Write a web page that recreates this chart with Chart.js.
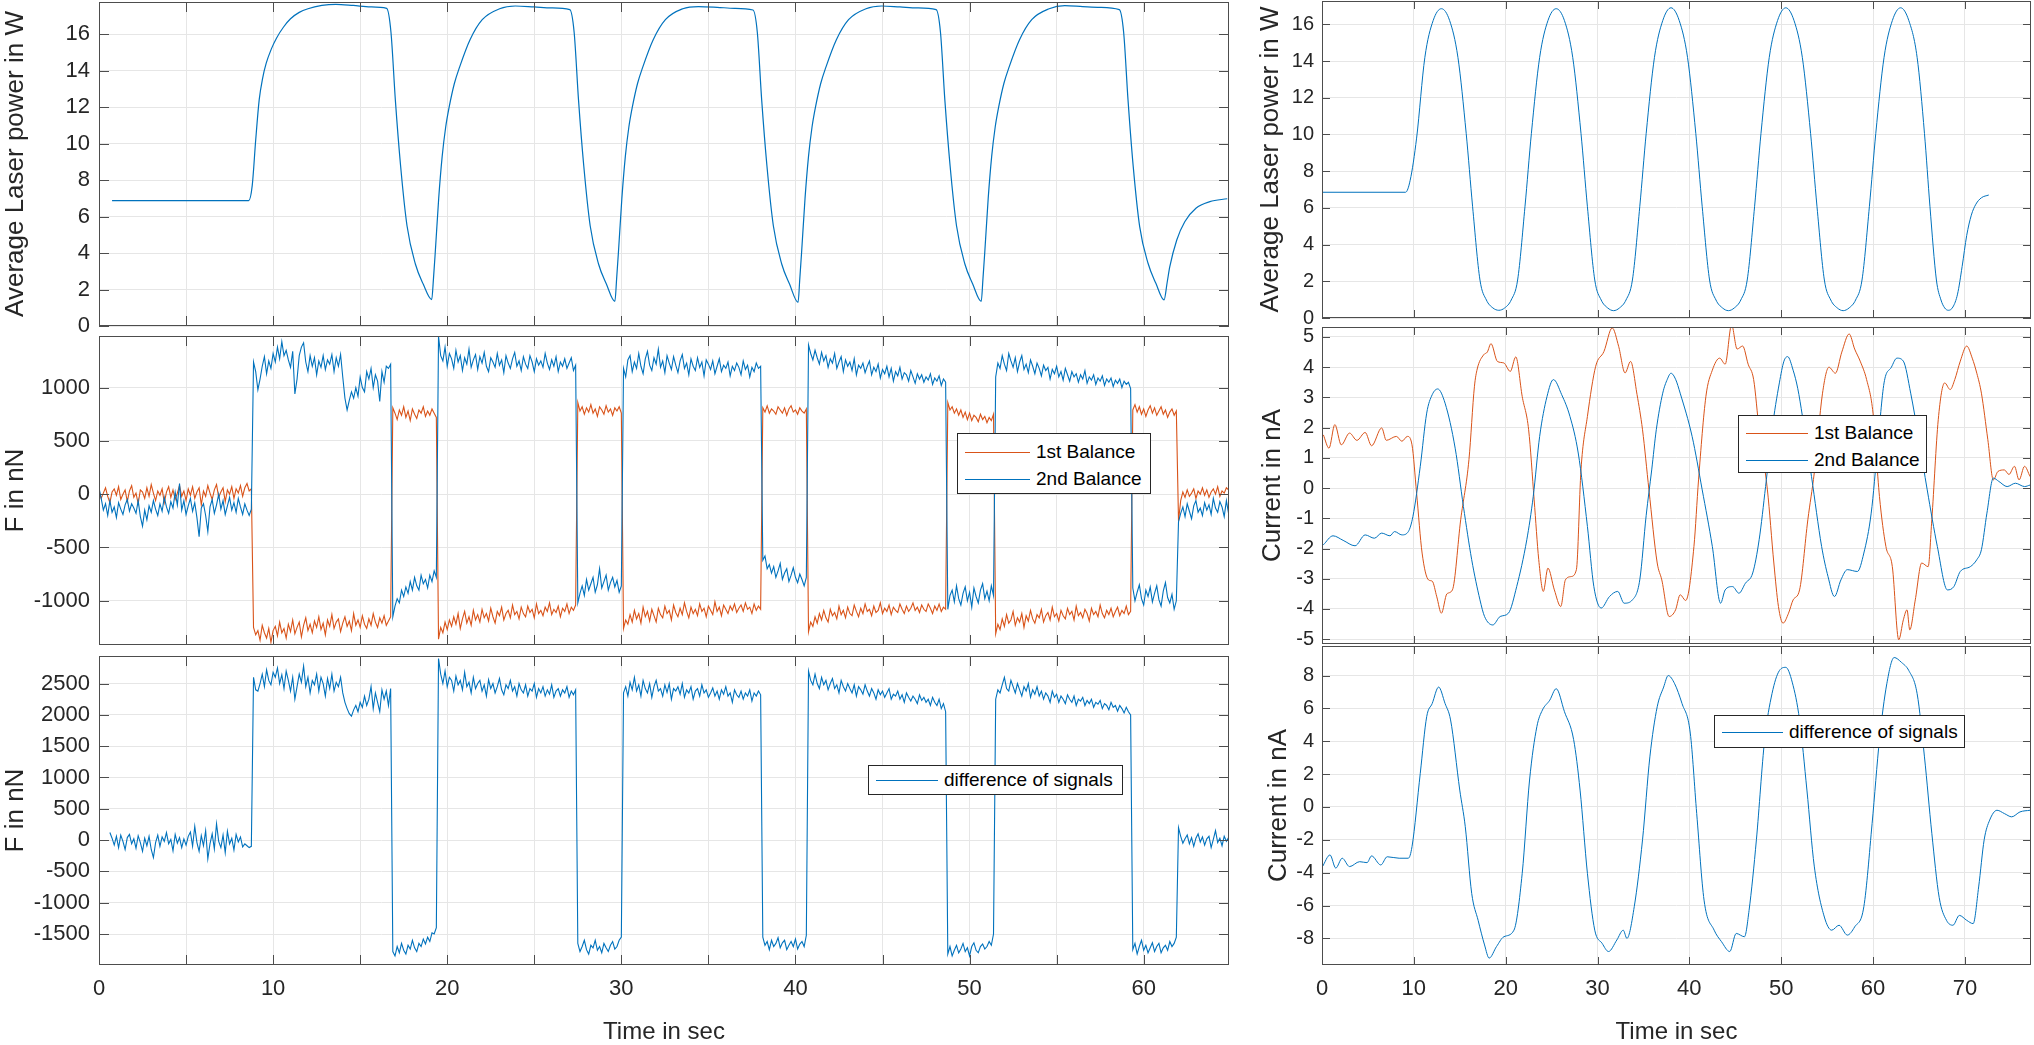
<!DOCTYPE html>
<html>
<head>
<meta charset="utf-8">
<title>Laser power and balance signals</title>
<script src="https://cdn.jsdelivr.net/npm/chart.js@4.4.1/dist/chart.umd.min.js"></script>
<style>
  html, body { margin: 0; padding: 0; background: #fff; }
  body { position: relative; width: 2034px; height: 1045px; overflow: hidden; }
  canvas { position: absolute; }
  .legend { position: absolute; background: #fff; border: 1px solid #262626; box-sizing: border-box;
            font-family: 'Liberation Sans', Arial, sans-serif; font-size: 19px; color: #000; }
  .legend .line { position: absolute; height: 0; }
  .legend .label { position: absolute; height: 24px; line-height: 24px; white-space: nowrap; }
</style>
</head>
<body>
<script>
// ===== Left figure (square-wave laser) =====

// laser power, seconds / W
const lasLT = [0.75, 8.6, 8.8, 9.0, 9.2, 9.4, 9.6, 9.9, 10.2, 10.6, 11.0, 11.5, 12.0, 12.8, 13.6, 14.6, 15.6, 16.52,
  16.77, 17.02, 17.32, 17.69, 18.17, 18.62, 19.11,
  19.21, 19.31, 19.51, 19.71, 19.91, 20.11, 20.41, 20.71, 21.31, 22.01, 23.01, 23.91, 25.0, 26.0, 27.04,
  27.29, 27.54, 27.84, 28.21, 28.69, 29.14, 29.63,
  29.73, 29.83, 30.03, 30.23, 30.43, 30.63, 30.93, 31.23, 31.83, 32.53, 33.53, 34.43, 35.5, 36.5, 37.56,
  37.81, 38.06, 38.36, 38.73, 39.21, 39.66, 40.15,
  40.25, 40.35, 40.55, 40.75, 40.95, 41.15, 41.45, 41.75, 42.35, 43.05, 44.05, 44.95, 46.0, 47.0, 48.08,
  48.33, 48.58, 48.88, 49.25, 49.73, 50.18, 50.67,
  50.77, 50.87, 51.07, 51.27, 51.47, 51.67, 51.97, 52.27, 52.87, 53.57, 54.57, 55.47, 56.5, 57.5, 58.6,
  58.85, 59.1, 59.4, 59.77, 60.25, 60.7, 61.17,
  61.35, 61.5, 61.9, 62.36, 63.0, 63.8, 64.8];
const lasLV = [6.88, 6.88, 7.7, 10.2, 12.4, 13.6, 14.4, 15.2, 15.8, 16.4, 16.85, 17.2, 17.4, 17.58, 17.64, 17.58, 17.5, 17.42,
  16.1, 12.4, 8.8, 5.5, 3.4, 2.3, 1.45,
  2.6, 4.0, 7.0, 9.3, 10.9, 12.0, 13.3, 14.2, 15.7, 16.8, 17.4, 17.55, 17.5, 17.45, 17.35,
  16.1, 12.4, 8.8, 5.5, 3.4, 2.3, 1.35,
  2.6, 4.0, 7.0, 9.3, 10.9, 12.0, 13.3, 14.2, 15.7, 16.8, 17.4, 17.52, 17.48, 17.42, 17.33,
  16.1, 12.4, 8.8, 5.5, 3.4, 2.3, 1.3,
  2.6, 4.0, 7.0, 9.3, 10.9, 12.0, 13.3, 14.2, 15.7, 16.8, 17.4, 17.55, 17.5, 17.45, 17.35,
  16.1, 12.4, 8.8, 5.5, 3.4, 2.3, 1.35,
  2.6, 4.0, 7.0, 9.3, 10.9, 12.0, 13.3, 14.2, 15.7, 16.8, 17.4, 17.57, 17.52, 17.48, 17.35,
  16.1, 12.4, 8.74, 5.45, 3.44, 2.34, 1.43,
  2.4, 3.25, 4.72, 5.72, 6.46, 6.82, 6.98];

// force signals in nN, one sample every 0.125 s from t = 0
const stepL = 0.125;
const bal1L = [
  // 0 - 8.75 s
  30, -40, 10, 60, -20, -80, 20, 50, -10, 70, -50, 0, 40, -70, 30, 80,
  -30, 10, -90, 40, 20, -40, 60, -20, 90, 10, -60, 30, -10, 50, -80, 20,
  70, -30, 40, -50, 10, 80, -20, 30, -60, 50, -10, 70, -40, 20, 60, -100,
  30, -20, 80, 10, -50, 40, 90, -30, 20, 60, -70, 40, 0, 70, -40, 50,
  10, 80, -20, 60, 100, 30, 50,
  // 8.875 - 16.75 s
  -1250, -1320, -1280, -1370, -1230, -1300, -1350, -1260, -1390, -1280, -1240, -1330, -1200, -1300, -1260, -1350,
  -1220, -1290, -1180, -1310, -1250, -1200, -1340, -1230, -1160, -1280, -1220, -1300, -1190, -1250, -1150, -1270,
  -1210, -1320, -1180, -1240, -1130, -1260, -1200, -1170, -1290, -1210, -1150, -1240, -1190, -1280, -1120, -1230,
  -1180, -1250, -1140, -1220, -1260, -1170, -1230, -1120, -1200, -1250, -1160, -1210, -1140, -1230, -1190, -1150,
  // 16.875 - 19.375 s
  810, 760, 700, 790, 740, 820, 720, 780, 690, 800, 750, 710, 790, 760, 820, 730, 780, 740, 800, 760, 720,
  // 19.5 - 27.375 s
  -1360, -1250, -1300, -1200, -1270, -1180, -1240, -1150, -1220, -1120, -1260, -1170, -1100, -1210, -1150, -1230,
  -1090, -1180, -1130, -1200, -1080, -1160, -1120, -1190, -1070, -1150, -1210, -1100, -1140, -1060, -1180, -1120,
  -1090, -1160, -1040, -1130, -1100, -1170, -1060, -1120, -1150, -1050, -1110, -1080, -1160, -1030, -1120, -1090,
  -1140, -1060, -1100, -1020, -1130, -1080, -1110, -1050, -1150, -1070, -1100, -1030, -1120, -1060, -1090, -1040,
  // 27.5 - 30.0 s
  860, 780, 820, 750, 810, 770, 840, 760, 800, 730, 820, 790, 750, 830, 770, 800, 740, 810, 780, 820, 760,
  // 30.125 - 38.0 s
  -1260, -1180, -1220, -1130, -1200, -1090, -1170, -1120, -1210, -1060, -1150, -1100, -1190, -1080, -1140, -1200,
  -1070, -1130, -1160, -1050, -1120, -1090, -1180, -1040, -1110, -1150, -1070, -1130, -1020, -1100, -1160, -1060,
  -1120, -1080, -1140, -1030, -1100, -1070, -1150, -1050, -1090, -1130, -1010, -1100, -1060, -1140, -1040, -1080,
  -1120, -1050, -1090, -1030, -1110, -1070, -1040, -1100, -1020, -1080, -1060, -1120, -1030, -1090, -1050, -1080,
  // 38.125 - 40.625 s
  810, 770, 830, 760, 800, 780, 750, 820, 790, 760, 810, 740, 800, 830, 770, 790, 750, 810, 780, 760, 800,
  // 40.75 - 48.625 s
  -1290, -1200, -1240, -1150, -1210, -1120, -1180, -1090, -1160, -1200, -1080, -1140, -1110, -1170, -1050, -1130,
  -1090, -1160, -1060, -1120, -1140, -1040, -1100, -1150, -1070, -1120, -1030, -1100, -1080, -1140, -1050, -1110,
  -1090, -1020, -1120, -1070, -1100, -1040, -1130, -1060, -1090, -1110, -1030, -1080, -1120, -1050, -1100, -1070,
  -1020, -1090, -1060, -1110, -1040, -1080, -1100, -1030, -1070, -1120, -1050, -1090, -1030, -1100, -1060, -1080,
  // 48.75 - 51.375 s
  860, 790, 820, 760, 800, 740, 790, 720, 770, 700, 760, 690, 740, 720, 680, 750, 700, 730, 670, 720, 690, 750,
  // 51.5 - 59.25 s
  -1310, -1220, -1270, -1170, -1240, -1130, -1210, -1180, -1100, -1230, -1160, -1200, -1120, -1250, -1140, -1190,
  -1090, -1170, -1210, -1130, -1160, -1080, -1200, -1140, -1110, -1180, -1060, -1150, -1120, -1190, -1090, -1140,
  -1170, -1070, -1130, -1100, -1180, -1050, -1140, -1110, -1160, -1080, -1120, -1190, -1070, -1130, -1100, -1150,
  -1040, -1120, -1160, -1090, -1130, -1070, -1150, -1100, -1060, -1140, -1090, -1120, -1050, -1130, -1100,
  // 59.375 - 61.875 s
  790, 840, 770, 820, 750, 800, 730, 790, 830, 760, 810, 740, 780, 820, 750, 790, 720, 770, 800, 740, 780,
  // 62.0 - 64.875 s
  -250, -60, 20, -30, 40, -20, 10, 50, -40, 30, 0, 60, -10, 40, -30, 20, 50, 0, 70, -20, 30, 10, 60, 40];

const bal2L = [
  // 0 - 8.75 s
  60, -40, -150, -90, -200, -60, -170, -120, -220, -80, -140, -190, -100, -50, -160, -90,
  -130, -180, -60, -210, -300, -150, -240, -110, -170, -60, -140, -200, -90, -160, -30, -120,
  -180, -70, -130, 20, -100, 100, -150, -60, -190, -110, -40, -160, -80, -220, -400, -130,
  -90, -200, -350, -120, -50, -180, -100, 0, -140, -60, -190, -110, -30, -150, -80, -170,
  -40, -120, -190, -90, -150, -200, -140,
  // 8.875 - 16.75 s
  1240, 1150, 980, 1080, 1200, 1290, 1130, 1250, 1180, 1320, 1240, 1380, 1270, 1430, 1300, 1350,
  1260, 1190, 1340, 940, 1080, 1300, 1380, 1420, 1240, 1150, 1300, 1200, 1280, 1120, 1250, 1190,
  1300, 1170, 1260, 1220, 1310, 1150, 1280, 1200, 1310, 1100, 900, 790, 880, 960, 900, 1000,
  920, 1100, 1000, 960, 1150, 1080, 1180, 1000, 1120, 1060, 870, 1150, 1050, 1200, 1180, 1220,
  // 16.875 - 19.375 s
  -1150, -1050, -980, -1020, -900, -960, -870, -930, -820, -900, -780, -860, -900, -760, -840, -800, -880, -760, -820, -720, -780,
  // 19.5 - 27.375 s
  1480, 1300, 1250, 1380, 1200, 1320, 1270, 1180, 1350, 1240, 1300, 1160, 1280, 1220, 1360, 1190,
  1260, 1310, 1170, 1290, 1230, 1330, 1200, 1150, 1280, 1240, 1190, 1320, 1210, 1260, 1140, 1300,
  1230, 1180, 1270, 1330, 1200, 1250, 1160, 1290, 1220, 1180, 1300, 1240, 1150, 1270, 1210, 1250,
  1190, 1320, 1230, 1170, 1260, 1200, 1290, 1150, 1240, 1200, 1270, 1180, 1230, 1280, 1160, 1210,
  // 27.5 - 30.0 s
  -1020, -930, -860, -950, -800, -900, -840, -780, -920, -850, -700, -880, -820, -760, -900, -830, -780, -870, -810, -920, -860,
  // 30.125 - 38.0 s
  1180, 1100, 1260, 1300, 1150, 1240, 1180, 1320, 1200, 1130, 1270, 1340, 1210, 1160, 1280, 1220,
  1360, 1190, 1250, 1140, 1300, 1230, 1170, 1290, 1210, 1140, 1250, 1310, 1180, 1230, 1120, 1270,
  1200, 1160, 1280, 1190, 1240, 1110, 1260, 1220, 1170, 1250, 1130, 1200, 1270, 1150, 1210, 1180,
  1240, 1110, 1200, 1160, 1230, 1190, 1120, 1250, 1170, 1210, 1100, 1190, 1150, 1230, 1180, 1200,
  // 38.125 - 40.625 s
  -620, -580, -700, -660, -740, -680, -780, -720, -650, -800, -740, -700, -820, -760, -690, -780, -830, -750, -800, -860, -780,
  // 40.75 - 48.625 s
  1400, 1320, 1260, 1350, 1280, 1220, 1330, 1250, 1300, 1190, 1270, 1230, 1320, 1180, 1240, 1290,
  1150, 1260, 1200, 1240, 1160, 1270, 1120, 1210, 1180, 1230, 1140, 1200, 1250, 1120, 1190, 1150,
  1220, 1090, 1170, 1130, 1200, 1100, 1180, 1060, 1150, 1110, 1190, 1080, 1140, 1120, 1060, 1160,
  1100, 1040, 1130, 1080, 1120, 1050, 1100, 1070, 1130, 1030, 1090, 1060, 1110, 1020, 1080, 1050,
  // 48.75 - 51.375 s
  -1080, -950, -900, -1010, -860, -980, -1040, -930, -870, -1000, -920, -1060, -880, -960, -1020, -900, -840, -980, -910, -1000, -860, -950,
  // 51.5 - 59.25 s
  1100, 1230, 1180, 1300, 1220, 1160, 1320, 1250, 1190, 1280, 1150, 1240, 1300, 1170, 1220, 1140,
  1260, 1200, 1130, 1230, 1180, 1110, 1210, 1160, 1190, 1080, 1170, 1130, 1200, 1100, 1150, 1070,
  1180, 1120, 1060, 1150, 1100, 1130, 1050, 1120, 1080, 1160, 1040, 1100, 1070, 1120, 1030, 1090,
  1060, 1110, 1020, 1080, 1050, 1090, 1010, 1070, 1040, 1080, 1000, 1060, 1030, 1050, 990,
  // 59.375 - 61.875 s
  -880, -1000, -920, -850, -980, -1040, -900, -960, -870, -1010, -930, -860, -990, -1050, -910, -830, -970, -1020, -940, -1080, -1000,
  // 62.0 - 64.875 s
  -260, -180, -120, -210, -90, -160, -230, -110, -60, -170, -130, -200, -80, -150, -100, -190, -40, -130, -170, -70, -120, -210, -60, -180];

const diffL = [
  // 0 - 8.75 s
  null, null, null, null, null, 120, 30, -80, 60, -120, 80, -20, -150, 40, 90, -60,
  20, -130, 70, -40, -180, 30, -90, 60, -150, -280, -40, 80, -100, 50, -20, 120,
  -60, 10, -170, 90, -50, 40, -120, 20, -80, 60, 130, -100, 220, -40, -180, 70,
  -90, 150, -300, -60, 100, -140, 260, -20, -120, 80, -200, 140, -60, 30, -160, 90,
  -30, 50, -110, -60, -90, -120, -100,
  // 8.875 - 16.75 s
  2600, 2400, 2380, 2500, 2650, 2450, 2720, 2550, 2480, 2680, 2600, 2750, 2500, 2640, 2420, 2700,
  2550, 2380, 2600, 2250, 2450, 2650, 2520, 2780, 2450, 2600, 2350, 2550, 2480, 2650, 2380, 2600,
  2500, 2300, 2580, 2420, 2650, 2380, 2520, 2450, 2600, 2350, 2200, 2100, 2020, 1980, 2080, 2150,
  2050, 2200, 2120, 2300, 2150, 2250, 2450, 2100, 2350, 2200, 2050, 2400, 2250, 2380, 2150, 2420,
  // 16.875 - 19.375 s
  -1780, -1850, -1700, -1800, -1650, -1760, -1820, -1680, -1740, -1600, -1720, -1780, -1650, -1700, -1580, -1660, -1550, -1620, -1480, -1500, -1400,
  // 19.5 - 27.375 s
  2900, 2650, 2500, 2700, 2450, 2600, 2550, 2380, 2620, 2480, 2550, 2400, 2680, 2450, 2520, 2350,
  2600, 2420, 2500, 2550, 2380, 2480, 2300, 2560, 2420, 2500, 2350, 2450, 2580, 2400, 2320, 2480,
  2420, 2550, 2380, 2450, 2300, 2500, 2400, 2350, 2480, 2300, 2420, 2380, 2500, 2280, 2420, 2350,
  2450, 2300, 2400, 2330, 2480, 2280, 2380, 2420, 2300, 2400, 2350, 2450, 2280, 2380, 2320, 2400,
  // 27.5 - 30.0 s
  -1650, -1780, -1700, -1600, -1750, -1820, -1680, -1720, -1600, -1760, -1700, -1800, -1650, -1720, -1780, -1680, -1620, -1740, -1700, -1600, -1550,
  // 30.125 - 38.0 s
  2350, 2450, 2300, 2520, 2400, 2600, 2380, 2480, 2300, 2550, 2420, 2350, 2500, 2280, 2450, 2550,
  2380, 2420, 2300, 2480, 2360, 2500, 2250, 2420, 2380, 2450, 2330, 2500, 2280, 2400, 2350, 2450,
  2250, 2380, 2420, 2300, 2480, 2350, 2400, 2280, 2350, 2430, 2300, 2380, 2250, 2400, 2330, 2450,
  2300, 2350, 2200, 2400, 2320, 2280, 2380, 2250, 2350, 2300, 2400, 2220, 2350, 2300, 2380, 2320,
  // 38.125 - 40.625 s
  -1550, -1680, -1620, -1750, -1600, -1700, -1650, -1560, -1720, -1640, -1600, -1750, -1680, -1620, -1700, -1580, -1740, -1660, -1620, -1700, -1520,
  // 40.75 - 48.625 s
  2700, 2550, 2480, 2650, 2500, 2420, 2600, 2480, 2550, 2400, 2500, 2580, 2420, 2480, 2350, 2550,
  2450, 2380, 2500, 2420, 2350, 2480, 2300, 2450, 2400, 2330, 2480, 2380, 2300, 2420, 2350, 2250,
  2400, 2320, 2380, 2280, 2350, 2420, 2250, 2330, 2300, 2380, 2250, 2320, 2200, 2350, 2280, 2220,
  2300, 2250, 2180, 2320, 2230, 2280, 2200, 2250, 2150, 2280, 2200, 2150, 2250, 2100, 2180, 2050,
  // 48.75 - 51.375 s
  -1820, -1700, -1850, -1760, -1680, -1800, -1740, -1650, -1780, -1720, -1850, -1700, -1640, -1760, -1800, -1700, -1660, -1740, -1700, -1620, -1680, -1500,
  // 51.5 - 59.25 s
  2250, 2400, 2350, 2480, 2600, 2420, 2380, 2550, 2450, 2350, 2500, 2400, 2300, 2450, 2380, 2500,
  2280, 2400, 2330, 2450, 2300, 2380, 2250, 2350, 2300, 2200, 2380, 2280, 2330, 2200, 2300, 2250,
  2180, 2320, 2250, 2200, 2300, 2150, 2250, 2220, 2280, 2150, 2230, 2180, 2250, 2120, 2200, 2170,
  2230, 2100, 2180, 2150, 2080, 2200, 2120, 2150, 2060, 2150, 2100, 2030, 2120, 2050, 2000,
  // 59.375 - 61.875 s
  -1750, -1650, -1820, -1700, -1600, -1760, -1680, -1800, -1720, -1640, -1780, -1700, -1650, -1800, -1720, -1680, -1760, -1620, -1700, -1650, -1550,
  // 62.0 - 64.875 s
  200, 60, -50, 20, 80, -60, 40, -100, 30, 100, -30, 50, -80, 20, 60, -120, 10, 150, -40, 30, -90, 60, -20, 40];

// ===== Right figure (sine-like laser) =====
const lasRT = [0, 9.1, 9.6, 10.3, 11.2, 12.1, 13.0, 13.9, 14.8, 15.7, 16.4, 17.2, 17.9, 18.6, 19.25,
  19.9, 20.6, 21.3, 22.1, 22.8, 23.7, 24.6, 25.5, 26.4, 27.3, 28.2, 28.9, 29.7, 30.4, 31.1, 31.75,
  32.4, 33.1, 33.8, 34.6, 35.3, 36.2, 37.1, 38.0, 38.9, 39.8, 40.7, 41.4, 42.2, 42.9, 43.6, 44.25,
  44.9, 45.6, 46.3, 47.1, 47.8, 48.7, 49.6, 50.5, 51.4, 52.3, 53.2, 53.9, 54.7, 55.4, 56.1, 56.75,
  57.4, 58.1, 58.8, 59.6, 60.3, 61.2, 62.1, 63.0, 63.9, 64.8, 65.6, 66.2, 66.9, 67.4, 67.8, 68.2,
  68.7, 69.2, 69.7, 70.2, 70.7, 71.2, 71.8, 72.6];
const lasRV = [6.85, 6.85, 7.5, 9.8, 14.2, 16.2, 16.85, 16.2, 14.2, 10.06, 6.06, 2.07, 0.98, 0.55, 0.42,
  0.55, 0.98, 2.07, 6.06, 10.06, 14.2, 16.2, 16.85, 16.2, 14.2, 10.06, 6.06, 2.07, 0.98, 0.55, 0.4,
  0.55, 0.98, 2.07, 6.06, 10.06, 14.2, 16.2, 16.9, 16.2, 14.2, 10.06, 6.06, 2.07, 0.98, 0.55, 0.4,
  0.55, 0.98, 2.07, 6.06, 10.06, 14.2, 16.2, 16.9, 16.2, 14.2, 10.06, 6.06, 2.07, 0.98, 0.55, 0.4,
  0.55, 0.98, 2.07, 6.06, 10.06, 14.2, 16.2, 16.9, 16.2, 14.2, 10.06, 6.06, 2.07, 0.98, 0.55, 0.42,
  0.6, 1.3, 2.8, 4.5, 5.6, 6.2, 6.55, 6.7];

// currents in nA
const bal1RT = [0.15, 0.76, 1.4, 2.1, 3.0, 3.8, 4.7, 5.4, 6.5, 7.0, 8.1, 8.7, 9.3, 9.8, 10.3, 10.9, 11.6, 12.0, 12.5, 13.0,
  13.6, 14.2, 15.1, 16.0, 16.6, 16.9, 17.6, 18.0, 18.4, 19.1, 19.8, 20.5, 21.1, 21.8, 22.5, 23.1, 23.6, 24.1, 24.6, 25.3,
  26.0, 26.5, 27.1, 27.7, 28.2, 28.9, 29.8, 30.7, 31.6, 32.3, 33.0, 33.6, 34.3, 34.9, 35.6, 36.5, 37.0, 37.8, 38.5, 39.0,
  39.6, 40.5, 41.0, 41.8, 42.5, 43.3, 43.9, 44.6, 45.2, 45.8, 46.4, 47.0, 47.6, 48.5, 49.2, 49.7, 50.2, 50.8, 51.3, 52.0,
  52.9, 53.6, 54.5, 55.2, 55.9, 56.6, 57.4, 58.0, 58.6, 59.3, 60.0, 60.7, 61.4, 62.1, 62.8, 63.3, 63.7, 64.0, 64.6, 65.3,
  66.0, 66.4, 67.1, 67.8, 68.4, 68.9, 69.5, 70.2, 70.8, 71.3, 71.8, 72.5, 73.1, 73.6, 74.3, 74.8, 75.4, 75.9, 76.5, 77.1];
const bal1RV = [1.76, 1.32, 2.1, 1.43, 1.82, 1.58, 1.84, 1.4, 1.99, 1.58, 1.71, 1.55, 1.71, 1.43, -0.17, -2.15, -3.04, -3.08, -3.6, -4.14,
  -3.5, -3.37, -1.05, 0.94, 3.37, 3.94, 4.41, 4.5, 4.78, 4.19, 4.14, 3.86, 4.34, 3.03, 1.93, -0.39, -2.37, -3.42, -2.65, -3.37,
  -3.92, -3.04, -2.93, -2.7, 0.6, 2.37, 4.03, 4.52, 5.3, 4.69, 3.81, 4.19, 3.1, 1.93, -0.06, -2.48, -3.04, -4.25, -4.03, -3.53,
  -3.72, -1.93, 0.27, 3.03, 3.9, 4.3, 4.1, 5.4, 4.6, 4.7, 4.1, 3.59, 1.93, -0.06, -2.48, -3.92, -4.47, -4.14, -3.7, -3.37,
  -1.05, 0.5, 3.14, 4.0, 3.8, 4.5, 5.1, 4.6, 4.2, 3.59, 2.48, -0.28, -1.93, -2.6, -5.02, -4.36, -4.03, -4.69, -3.7, -2.48,
  -2.6, -1.05, 2.26, 3.48, 3.26, 3.59, 4.2, 4.7, 4.3, 3.8, 3.14, 1.6, 0.27, 0.55, 0.6, 0.45, 0.72, 0.27, 0.72, 0.38];
const bal2RT = [0.14, 1.2, 2.3, 3.6, 4.7, 5.7, 6.5, 7.4, 7.9, 8.7, 9.4, 9.9, 10.7, 11.4, 12.0, 12.6, 13.4, 14.5, 15.4, 16.3,
  17.2, 17.7, 18.6, 19.4, 20.3, 21.2, 22.3, 23.0, 23.7, 24.5, 25.2, 26.1, 27.0, 27.9, 28.9, 29.6, 30.4, 31.3, 32.2, 32.9,
  33.8, 34.6, 35.3, 35.9, 36.4, 37.1, 37.6, 38.0, 38.5, 39.0, 40.3, 41.4, 42.5, 43.4, 43.9, 44.7, 45.4, 46.1, 46.9, 47.6,
  48.3, 49.0, 49.8, 50.3, 50.7, 51.3, 51.8, 52.3, 53.3, 54.4, 55.1, 55.8, 56.5, 57.2, 58.3, 59.0, 59.8, 60.5, 61.2, 62.0,
  62.6, 63.3, 64.1, 65.0, 65.9, 67.0, 68.1, 68.8, 69.5, 70.6, 71.3, 71.8, 72.4, 73.1, 73.7, 74.6, 75.5, 76.5, 77.1];
const bal2RV = [-1.88, -1.58, -1.73, -1.91, -1.55, -1.66, -1.49, -1.58, -1.44, -1.55, -1.44, -0.94, 0.72, 2.48, 3.09, 3.28, 2.81, 1.32, -0.61, -2.37,
  -3.7, -4.25, -4.53, -4.25, -4.14, -3.26, -1.71, -0.28, 1.71, 3.03, 3.59, 3.09, 2.37, 1.16, -1.27, -3.26, -3.97, -3.59, -3.42, -3.81,
  -3.7, -3.04, -0.9, 0.6, 1.93, 3.14, 3.6, 3.8, 3.6, 3.14, 1.71, -0.06, -1.93, -3.81, -3.37, -3.26, -3.48, -3.15, -2.81, -1.71,
  0.05, 1.93, 3.48, 4.2, 4.35, 3.9, 3.3, 2.4, 0.38, -1.93, -2.93, -3.59, -3.04, -2.7, -2.76, -2.15, -0.83, 1.37, 3.48, 4.0,
  4.3, 4.2, 3.14, 1.6, -0.06, -1.93, -3.37, -3.26, -2.76, -2.6, -2.37, -2.04, -0.83, 0.33, 0.22, 0.05, 0.16, 0.05, 0.1];
const diffRT = [0.05, 0.87, 1.5, 2.2, 3.0, 4.1, 4.9, 5.4, 6.4, 7.1, 8.4, 9.4, 9.8, 10.7, 11.4, 12.0, 12.7, 13.4, 14.0,
  15.0, 15.6, 16.3, 17.0, 17.7, 18.2, 19.0, 19.8, 20.9, 21.8, 22.6, 23.4, 24.0, 24.8, 25.5, 26.4, 27.4, 28.1, 28.9, 29.7,
  30.5, 31.2, 32.1, 32.8, 33.2, 34.0, 34.9, 35.7, 36.5, 37.2, 37.7, 38.4, 39.2, 40.1, 40.8, 41.6, 42.7, 43.5, 44.4, 45.1,
  46.0, 46.5, 47.3, 48.2, 49.0, 49.8, 50.5, 51.2, 52.0, 52.8, 53.6, 54.7, 55.5, 56.3, 57.2, 58.0, 59.0, 59.9, 60.7, 61.5,
  62.3, 63.1, 63.9, 64.8, 65.6, 66.4, 67.2, 68.0, 68.7, 69.4, 70.2, 70.9, 71.5, 72.1, 72.7, 73.5, 74.3, 75.1, 76.0, 77.1];
const diffRV = [-3.63, -2.92, -3.72, -3.12, -3.63, -3.33, -3.39, -2.98, -3.53, -3.03, -3.12, -3.12, -2.42, 2.05, 5.5, 6.3, 7.3, 6.3, 5.3,
  1.03, -1.2, -5.26, -6.9, -8.4, -9.2, -8.5, -7.9, -7.5, -4.04, 1.64, 4.9, 5.9, 6.5, 7.2, 5.8, 4.1, 1.03, -4.04, -7.5,
  -8.3, -8.8, -8.1, -7.5, -8.0, -6.07, -2.0, 3.05, 6.1, 7.3, 8.0, 7.5, 6.3, 4.5, -0.4, -5.67, -7.5, -8.2, -8.8, -7.7,
  -7.9, -6.3, -2.0, 4.1, 6.9, 8.3, 8.5, 7.6, 5.3, 1.03, -3.6, -6.7, -7.5, -7.2, -7.8, -7.3, -6.07, -1.0, 4.1, 7.5,
  9.1, 8.8, 8.3, 6.9, 3.05, -1.6, -5.5, -6.9, -7.2, -6.6, -6.9, -7.1, -4.87, -2.0, -0.8, -0.2, -0.4, -0.6, -0.3, -0.2];

// ticks
const xTicksL = [0, 5, 10, 15, 20, 25, 30, 35, 40, 45, 50, 55, 60];
const xTicksR = [0, 10, 20, 30, 40, 50, 60, 70];
const yTicksPow = [0, 2, 4, 6, 8, 10, 12, 14, 16];
const yTicksBalL = [-1000, -500, 0, 500, 1000];
const yTicksDiffL = [-1500, -1000, -500, 0, 500, 1000, 1500, 2000, 2500];
const yTicksBalR = [-5, -4, -3, -2, -1, 0, 1, 2, 3, 4, 5];
const yTicksDiffR = [-8, -6, -4, -2, 0, 2, 4, 6, 8];

// ===== drawing =====
const BLUE = '#0072BD', ORANGE = '#D95319';
const GRID = '#e6e6e6', AXIS = '#4d4d4d', TEXT = '#262626';
const FONT = "'Liberation Sans', Arial, Helvetica, sans-serif";

const pts = (ts, vs) => ts.map((t, i) => ({ x: t, y: vs[i] }));
const gridPts = (vs) => vs.map((v, i) => ({ x: i * stepL, y: v }));

// MATLAB-like box with ticks pointing inward
const frameTicks = {
  id: 'frameTicks',
  afterDatasetsDraw(chart, args, opts) {
    const { ctx, chartArea: a, scales: { x, y } } = chart;
    const len = opts.len || 10;
    ctx.save();
    ctx.strokeStyle = AXIS;
    ctx.lineWidth = 1;
    ctx.beginPath();
    x.ticks.forEach(t => {
      const px = Math.round(x.getPixelForValue(t.value)) + 0.5;
      ctx.moveTo(px, a.bottom); ctx.lineTo(px, a.bottom - len);
      ctx.moveTo(px, a.top); ctx.lineTo(px, a.top + len);
    });
    y.ticks.forEach(t => {
      const py = Math.round(y.getPixelForValue(t.value)) + 0.5;
      ctx.moveTo(a.left, py); ctx.lineTo(a.left + len, py);
      ctx.moveTo(a.right, py); ctx.lineTo(a.right - len, py);
    });
    ctx.stroke();
    ctx.strokeRect(a.left + 0.5, a.top + 0.5, a.right - a.left - 1, a.bottom - a.top - 1);
    ctx.restore();
  }
};

function panel(r, o) {
  const c = document.createElement('canvas');
  const w = o.yw + (r.x1 - r.x0) + 30;
  const h = 30 + (r.y1 - r.y0) + o.bh;
  c.width = w; c.height = h;
  c.style.left = (r.x0 - o.yw) + 'px';
  c.style.top = (r.y0 - 30) + 'px';
  document.body.appendChild(c);
  const showX = !!o.xTitle;

  return new Chart(c, {
    type: 'line',
    data: { datasets: o.datasets },
    options: {
      responsive: false,
      animation: false,
      events: [],
      layout: { padding: { top: 30, right: 30, left: 0, bottom: 0 } },
      elements: { point: { radius: 0 }, line: { borderWidth: o.lw } },
      plugins: { legend: { display: false }, tooltip: { enabled: false }, frameTicks: { len: o.tickLen } },
      scales: {
        x: {
          type: 'linear', min: o.xMin, max: o.xMax,
          border: { display: false },
          grid: { color: GRID, drawTicks: false },
          afterBuildTicks: s => { s.ticks = o.xTicks.map(v => ({ value: v })); },
          afterFit: s => { s.height = o.bh; },
          ticks: {
            display: showX, autoSkip: false, maxRotation: 0, padding: 11, color: TEXT,
            font: { family: FONT, size: 22 },
            callback: v => (v % 10 === 0 ? String(v) : '')
          },
          title: {
            display: showX, text: o.xTitle || '', color: TEXT,
            font: { family: FONT, size: 24, lineHeight: 1 }, padding: { top: 0, bottom: 1 }
          }
        },
        y: {
          min: o.yMin, max: o.yMax,
          border: { display: false },
          grid: { color: GRID, drawTicks: false },
          afterBuildTicks: s => { s.ticks = o.yTicks.map(v => ({ value: v })); },
          afterFit: s => { s.width = o.yw; },
          ticks: { padding: o.yPad, color: TEXT, font: { family: FONT, size: o.yFont }, callback: v => String(v) },
          title: {
            display: true, text: o.yTitle, color: TEXT,
            font: { family: FONT, size: 26 }, padding: { top: o.titlePad, bottom: 0 }
          }
        }
      }
    },
    plugins: [frameTicks]
  });
}

function legend(left, top, width, height, rows, lineX0, lineX1, textX) {
  const box = document.createElement('div');
  box.className = 'legend';
  box.style.cssText = `left:${left}px;top:${top}px;width:${width}px;height:${height}px`;
  rows.forEach(r => {
    const ln = document.createElement('div');
    ln.className = 'line';
    ln.style.cssText = `left:${lineX0}px;width:${lineX1 - lineX0}px;top:${r.y}px;border-top:1.3px solid ${r.color}`;
    const tx = document.createElement('div');
    tx.className = 'label';
    tx.style.cssText = `left:${textX}px;top:${r.y - 12}px`;
    tx.textContent = r.text;
    box.append(ln, tx);
  });
  document.body.appendChild(box);
}

const left = { yw: 99, yPad: 9, yFont: 22, titlePad: 0, tickLen: 10, lw: 1.1, xMin: 0, xMax: 64.9, xTicks: xTicksL };
const right = { yw: 67, yPad: 8, yFont: 20, tickLen: 8, lw: 1.0, xMin: 0, xMax: 77.2, xTicks: xTicksR };

// left column
panel({ x0: 99, x1: 1229, y0: 2, y1: 326 }, Object.assign({}, left, {
  bh: 30, yMin: 0, yMax: 17.77, yTicks: yTicksPow, yTitle: 'Average Laser power in W', lw: 1.2,
  datasets: [{ data: pts(lasLT, lasLV), borderColor: BLUE, cubicInterpolationMode: 'monotone' }]
}));
panel({ x0: 99, x1: 1229, y0: 336, y1: 645 }, Object.assign({}, left, {
  bh: 30, yMin: -1415, yMax: 1484, yTicks: yTicksBalL, yTitle: 'F in nN',
  datasets: [
    { data: gridPts(bal1L), borderColor: ORANGE, order: 1 },
    { data: gridPts(bal2L), borderColor: BLUE, order: 0 }
  ]
}));
panel({ x0: 99, x1: 1229, y0: 656, y1: 965 }, Object.assign({}, left, {
  bh: 80, yMin: -1995, yMax: 2940, yTicks: yTicksDiffL, yTitle: 'F in nN', xTitle: 'Time in sec',
  datasets: [{ data: gridPts(diffL), borderColor: BLUE }]
}));

// right column
panel({ x0: 1322, x1: 2031, y0: 1, y1: 318 }, Object.assign({}, right, {
  bh: 30, titlePad: 0, yMin: 0, yMax: 17.27, yTicks: yTicksPow, yTitle: 'Average Laser power in W',
  datasets: [{ data: pts(lasRT, lasRV), borderColor: BLUE, cubicInterpolationMode: 'monotone' }]
}));
panel({ x0: 1322, x1: 2031, y0: 327, y1: 644 }, Object.assign({}, right, {
  bh: 30, titlePad: 2, yMin: -5.16, yMax: 5.33, yTicks: yTicksBalR, yTitle: 'Current in nA',
  datasets: [
    { data: pts(bal1RT, bal1RV), borderColor: ORANGE, cubicInterpolationMode: 'monotone', order: 1 },
    { data: pts(bal2RT, bal2RV), borderColor: BLUE, cubicInterpolationMode: 'monotone', order: 0 }
  ]
}));
panel({ x0: 1322, x1: 2031, y0: 646, y1: 965 }, Object.assign({}, right, {
  bh: 80, titlePad: 8, yMin: -9.62, yMax: 9.8, yTicks: yTicksDiffR, yTitle: 'Current in nA', xTitle: 'Time in sec',
  datasets: [{ data: pts(diffRT, diffRV), borderColor: BLUE, cubicInterpolationMode: 'monotone' }]
}));

// legends
legend(957, 433, 194, 61, [
  { y: 18, color: ORANGE, text: '1st Balance' },
  { y: 45, color: BLUE, text: '2nd Balance' }
], 7, 72, 78);
legend(1738, 415, 189, 58, [
  { y: 17, color: ORANGE, text: '1st Balance' },
  { y: 44, color: BLUE, text: '2nd Balance' }
], 7, 69, 75);
legend(868, 765, 255, 30, [{ y: 14, color: BLUE, text: 'difference of signals' }], 7, 69, 75);
legend(1714, 715, 251, 33, [{ y: 16, color: BLUE, text: 'difference of signals' }], 7, 68, 74);
</script>
</body>
</html>
